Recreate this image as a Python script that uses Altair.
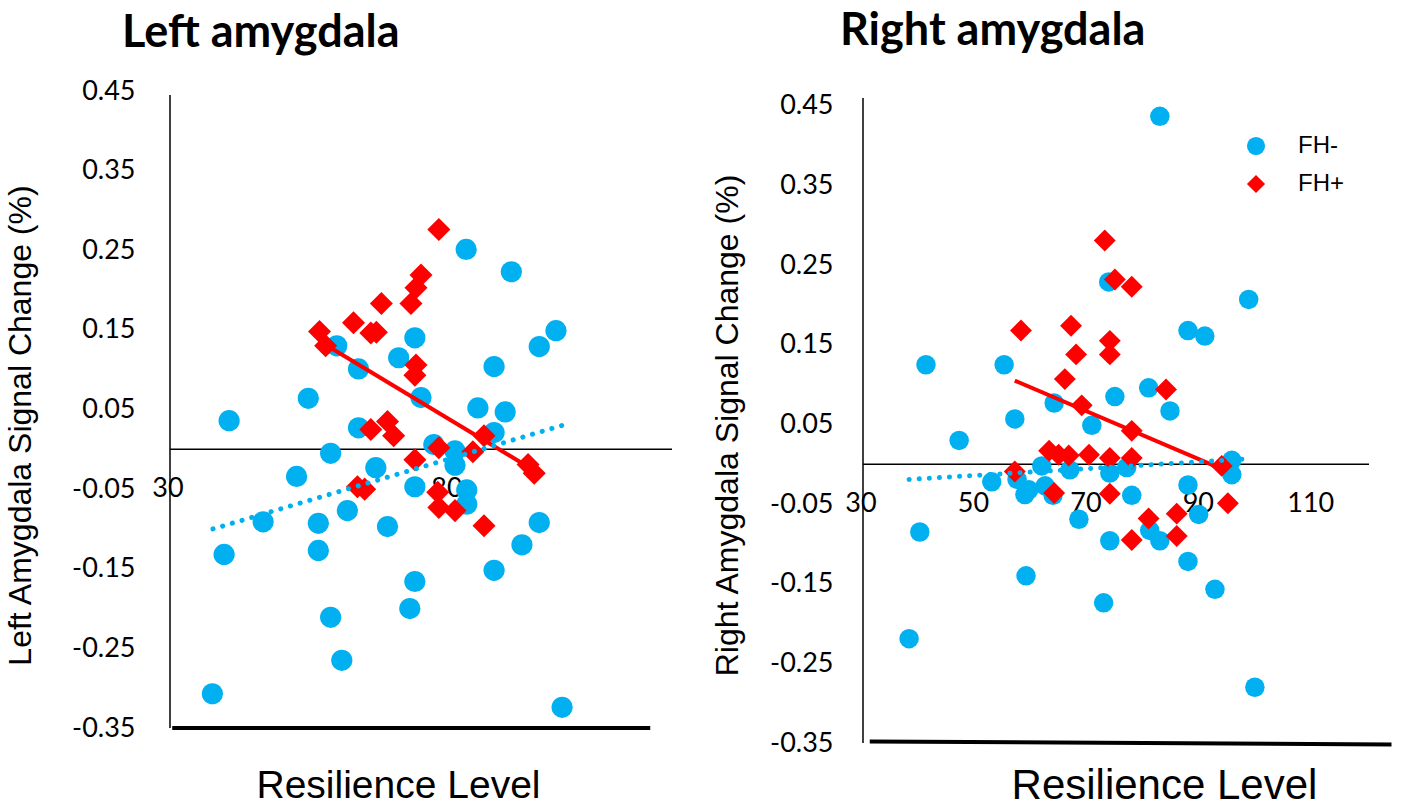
import altair as alt
import pandas as pd

# ---------------- data ----------------
L_NEG_X = [40.6, 39.7, 37.6, 46.7, 52.7, 54.8, 56.6, 56.6, 58.8, 60.8, 59.9, 63.8, 58.8, 61.8, 63.8,
           66.9, 69.0, 71.0, 73.9, 75.0, 73.9, 73.9, 73.0, 83.1, 91.2, 99.2, 96.2, 88.1, 85.2, 90.1,
           88.1, 77.3, 81.1, 81.1, 83.2, 83.2, 96.2, 93.1, 88.1, 100.3]
L_NEG_Y = [0.036, -0.132, -0.307, -0.091, -0.034, 0.064, -0.093, -0.127, -0.211, -0.265, 0.13, 0.101,
           -0.005, -0.077, 0.027, -0.023, -0.097, 0.115, 0.14, 0.065, -0.047, -0.166, -0.2, 0.251,
           0.223, 0.149, 0.129, 0.104, 0.052, 0.047, 0.021, 0.006, -0.002, -0.02, -0.051, -0.069,
           -0.092, -0.12, -0.152, -0.324]
L_POS_X = [56.8, 57.9, 62.9, 67.9, 66.0, 67.0, 66.0, 69.0, 70.1, 78.2, 75.0, 74.1, 73.2, 74.1, 73.9,
           78.2, 86.3, 84.3, 73.9, 94.2, 95.3, 78.0, 78.2, 81.1, 86.3, 63.6, 64.9]
L_POS_Y = [0.148, 0.13, 0.159, 0.183, 0.146, 0.147, 0.025, 0.035, 0.017, 0.276, 0.219, 0.203, 0.183,
           0.106, 0.093, 0.002, 0.017, -0.003, -0.013, -0.019, -0.03, -0.054, -0.073, -0.077, -0.096,
           -0.047, -0.05]
L_TREND_NEG_X = [37.7, 100.3]
L_TREND_NEG_Y = [-0.10, 0.030]
L_TREND_POS_X = [57.0, 94.7]
L_TREND_POS_Y = [0.135, -0.024]

R_NEG_X = [82.8, 98.6, 73.7, 87.8, 90.8, 41.2, 55.1, 64.0, 57.0, 47.1, 52.9, 58.8, 63.8, 66.8, 61.8,
           68.4, 40.1, 59.0, 38.2, 73.9, 76.9, 74.8, 80.8, 84.6, 70.7, 95.6, 95.6, 87.8, 89.7, 77.8,
           73.9, 81.0, 82.8, 87.8, 92.6, 72.8, 99.7, 57.4, 59.5, 62.4]
R_NEG_Y = [0.437, 0.207, 0.229, 0.168, 0.161, 0.125, 0.125, 0.077, 0.057, 0.03, -0.022, -0.038,
           -0.039, -0.007, -0.002, -0.069, -0.085, -0.14, -0.219, -0.011, -0.004, 0.085, 0.096, 0.067,
           0.049, 0.005, -0.013, -0.026, -0.063, -0.039, -0.096, -0.083, -0.096, -0.122, -0.157,
           -0.174, -0.28, -0.019, -0.032, -0.027]
R_POS_X = [58.1, 67.0, 67.9, 65.9, 73.0, 74.8, 77.8, 73.9, 73.9, 68.9, 77.8, 83.9, 70.2, 73.9, 77.8,
           63.1, 64.8, 66.6, 57.0, 64.0, 73.9, 80.8, 85.8, 77.8, 85.8, 94.9, 93.8]
R_POS_Y = [0.168, 0.174, 0.138, 0.107, 0.281, 0.232, 0.223, 0.155, 0.138, 0.074, 0.042, 0.094, 0.012,
           0.008, 0.008, 0.017, 0.012, 0.011, -0.009, -0.036, -0.037, -0.068, -0.062, -0.095, -0.09,
           -0.049, -0.002]
R_TREND_NEG_X = [38.2, 98.8]
R_TREND_NEG_Y = [-0.019, 0.007]
R_TREND_POS_X = [57.0, 94.2]
R_TREND_POS_Y = [0.105, -0.007]

GROUPS = ["FH-", "FH+"]
Y_TICKS = [-0.35, -0.25, -0.15, -0.05, 0.05, 0.15, 0.25, 0.35, 0.45]
L_X_TICKS = [30, 80]
R_X_TICKS = [30, 50, 70, 90, 110]
X_DOMAIN = [30, 120]
L_Y_DOMAIN = [-0.35, 0.45]
R_Y_DOMAIN = [-0.35, 0.4688]
ZERO = [0]

BLUE = "#00B0F0"
RED = "#FF0000"
LABEL_FONT = "Lato"
TEXT_FONT = "Liberation Sans"


def points_df(nx, ny, px, py):
    return pd.DataFrame({
        "x": nx + px,
        "y": ny + py,
        "group": [GROUPS[0]] * len(nx) + [GROUPS[1]] * len(px),
    })


def panel(nx, ny, px, py, tnx, tny, tpx, tpy, xticks, title, ytitle, width, height, ydomain,
          csize, dsize, title_dx, title_offset, ylab_pad, ytitle_pad, xtitle_size,
          xtitle_pad, xtitle_x, bottom_x, bottom_y, axis_top, legend):
    xs = alt.Scale(domain=X_DOMAIN, nice=False, zero=False)
    ys = alt.Scale(domain=ydomain, nice=False, zero=False)
    x_axis = alt.Axis(title="Resilience Level", labels=False, ticks=False, domain=False,
                      grid=False, titleFont=TEXT_FONT, titleFontSize=xtitle_size,
                      titleFontWeight="normal", titlePadding=xtitle_pad, titleColor="black",
                      titleX=xtitle_x)
    y_axis = alt.Axis(title=ytitle, values=Y_TICKS, grid=False, ticks=False, domain=False,
                      labelExpr="replace(format(datum.value, '.2f'), '\u2212', '-')",
                      labelFont=LABEL_FONT, labelFontSize=27, labelColor="black",
                      labelPadding=ylab_pad, titleFont=TEXT_FONT, titleFontSize=32,
                      titleFontWeight="normal", titleColor="black", titlePadding=ytitle_pad,
                      titleY=334)

    df = points_df(nx, ny, px, py)
    pts = alt.Chart(df).mark_point(filled=True, opacity=1, strokeWidth=0).encode(
        x=alt.X("x:Q", scale=xs, axis=x_axis),
        y=alt.Y("y:Q", scale=ys, axis=y_axis),
        color=alt.Color("group:N", scale=alt.Scale(domain=GROUPS, range=[BLUE, RED]),
                        legend=legend),
        shape=alt.Shape("group:N", scale=alt.Scale(domain=GROUPS, range=["circle", "diamond"]),
                        legend=legend),
        size=alt.condition(alt.datum.group == "FH-", alt.value(csize), alt.value(dsize)),
    )

    zero = alt.Chart(pd.DataFrame({"z": ZERO})).mark_rule(color="black", strokeWidth=1.5).encode(
        y=alt.Y("z:Q", scale=ys))

    yline = alt.Chart(pd.DataFrame({"x": [X_DOMAIN[0]], "y": [axis_top], "y2": [ydomain[0]]})).mark_rule(
        color="black", strokeWidth=1.5).encode(
        x=alt.X("x:Q", scale=xs), y=alt.Y("y:Q", scale=ys), y2="y2:Q")

    bottom = alt.Chart(pd.DataFrame({"x": [bottom_x[0]], "x2": [bottom_x[1]],
                                     "y": [bottom_y[0]], "y2": [bottom_y[1]]})).mark_rule(
        color="black", strokeWidth=4).encode(
        x=alt.X("x:Q", scale=xs), x2="x2:Q", y=alt.Y("y:Q", scale=ys), y2="y2:Q")

    xlab = alt.Chart(pd.DataFrame({"v": xticks, "t": [str(v) for v in xticks]})).mark_text(
        font=LABEL_FONT, fontSize=27, color="black", baseline="middle", dy=40, dx=-2).encode(
        x=alt.X("v:Q", scale=xs), y=alt.datum(0), text="t:N")

    tneg = alt.Chart(pd.DataFrame({"x": tnx, "y": tny})).mark_line(
        color=BLUE, strokeWidth=5, strokeDash=[0.1, 10], strokeCap="round").encode(
        x=alt.X("x:Q", scale=xs), y=alt.Y("y:Q", scale=ys))
    tpos = alt.Chart(pd.DataFrame({"x": tpx, "y": tpy})).mark_line(
        color=RED, strokeWidth=4).encode(x=alt.X("x:Q", scale=xs), y=alt.Y("y:Q", scale=ys))

    return alt.layer(zero, yline, bottom, xlab, pts, tpos, tneg).properties(
        width=width, height=height,
        view=alt.ViewBackground(stroke="transparent", strokeWidth=0),
        title=alt.TitleParams(title, anchor="start", frame="group", dx=title_dx,
                              offset=title_offset, font=LABEL_FONT, fontSize=45,
                              fontWeight="bold", color="black"),
    )


right_legend = alt.Legend(title=None, orient="none", legendX=381, legendY=43,
                          symbolSize=330, labelFont=TEXT_FONT, labelFontSize=24,
                          labelColor="black", labelOffset=30, rowPadding=14)

left = panel(L_NEG_X, L_NEG_Y, L_POS_X, L_POS_Y, L_TREND_NEG_X, L_TREND_NEG_Y,
             L_TREND_POS_X, L_TREND_POS_Y, L_X_TICKS, "Left amygdala",
             "Left Amygdala Signal Change (%)", 502, 637, L_Y_DOMAIN, 450, 530, -48, 21, 35, 34,
             39, 38, 228, [30.4, 116.1], [-0.35, -0.35], 0.445, None)
right = panel(R_NEG_X, R_NEG_Y, R_POS_X, R_POS_Y, R_TREND_NEG_X, R_TREND_NEG_Y,
              R_TREND_POS_X, R_TREND_POS_Y, R_X_TICKS, "Right amygdala",
              "Right Amygdala Signal Change (%)", 506, 652, R_Y_DOMAIN, 380, 480, -23, 37, 30, 25,
              42, 22, 301, [31.2, 124.0], [-0.348, -0.352], 0.46, right_legend)

chart = alt.hconcat(left, right, spacing=38).resolve_scale(
    color="independent", shape="independent"
).properties(
    background="white",
    padding={"left": 4, "top": 9, "right": 5, "bottom": 0}
).configure_view(stroke="transparent", strokeWidth=0)

chart.save("out.html", embed_options={"renderer": "svg", "actions": False})
